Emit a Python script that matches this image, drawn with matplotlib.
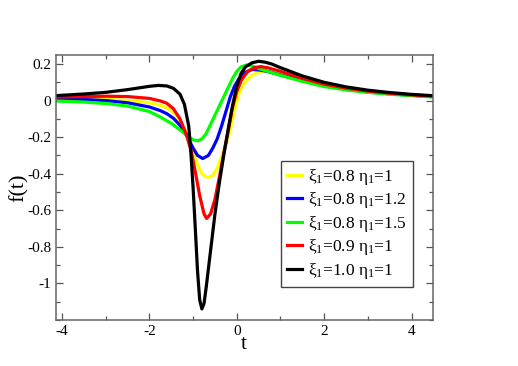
import matplotlib
matplotlib.use("Agg")
import matplotlib.pyplot as plt
from matplotlib.ticker import FixedLocator, FixedFormatter, MultipleLocator

plt.rcParams['font.family'] = ['Liberation Serif', 'DejaVu Serif']
plt.rcParams['mathtext.fontset'] = 'custom'
plt.rcParams['mathtext.rm'] = 'Liberation Serif'
plt.rcParams['mathtext.it'] = 'Liberation Serif'

# --- data ---
t_yellow = [-4.15, -3.5, -3.0, -2.5, -2.0, -1.75, -1.6, -1.45, -1.3, -1.15, -1.0, -0.9, -0.8, -0.72, -0.64,
            -0.55, -0.45, -0.35, -0.25, -0.15, -0.05, 0.05, 0.15, 0.3, 0.45, 0.6, 0.75, 1.0, 1.5,
            2.0, 2.5, 3.0, 3.5, 4.0, 4.47]
f_yellow = [0.014, 0.014, 0.010, 0.0, -0.012, -0.026, -0.04, -0.065, -0.11, -0.18, -0.28, -0.35, -0.40, -0.415, -0.42,
            -0.41, -0.37, -0.31, -0.24, -0.16, -0.05, 0.04, 0.09, 0.13, 0.152, 0.158, 0.155, 0.145, 0.116,
            0.085, 0.065, 0.05, 0.038, 0.03, 0.023]

t_blue = [-4.15, -3.5, -3.0, -2.5, -2.0, -1.75, -1.6, -1.45, -1.3, -1.15, -1.0, -0.9, -0.78, -0.65,
          -0.55, -0.45, -0.35, -0.25, -0.15, -0.05, 0.05, 0.2, 0.35, 0.5, 0.7, 1.0, 1.5,
          2.0, 2.5, 3.0, 3.5, 4.0, 4.47]
f_blue = [0.008, 0.006, 0.0, -0.012, -0.035, -0.055, -0.072, -0.097, -0.135, -0.19, -0.26, -0.30, -0.317, -0.30,
          -0.26, -0.21, -0.14, -0.06, 0.02, 0.08, 0.12, 0.155, 0.17, 0.168, 0.16, 0.14, 0.11,
          0.08, 0.062, 0.047, 0.037, 0.029, 0.022]

t_green = [-4.15, -3.5, -3.0, -2.5, -2.0, -1.75, -1.5, -1.3, -1.15, -1.0, -0.89, -0.8, -0.7, -0.6,
           -0.5, -0.4, -0.3, -0.2, -0.1, 0.0, 0.1, 0.23, 0.35, 0.5, 0.7, 1.0, 1.5,
           2.0, 2.5, 3.0, 3.5, 4.0, 4.47]
f_green = [-0.002, -0.008, -0.016, -0.03, -0.06, -0.09, -0.125, -0.16, -0.19, -0.215, -0.22, -0.21, -0.18, -0.13,
           -0.08, -0.03, 0.02, 0.07, 0.12, 0.16, 0.185, 0.195, 0.19, 0.175, 0.16, 0.138, 0.105,
           0.077, 0.058, 0.045, 0.035, 0.027, 0.02]

t_red = [-4.15, -3.5, -3.0, -2.5, -2.0, -1.75, -1.6, -1.45, -1.3, -1.15, -1.05, -0.95, -0.85, -0.75, -0.69,
         -0.6, -0.5, -0.4, -0.3, -0.2, -0.1, 0.0, 0.1, 0.25, 0.4, 0.55, 0.7, 1.0, 1.5,
         2.0, 2.5, 3.0, 3.5, 4.0, 4.47]
f_red = [0.02, 0.022, 0.024, 0.022, 0.012, -0.002, -0.015, -0.045, -0.10, -0.19, -0.27, -0.39, -0.52, -0.62, -0.645,
         -0.62, -0.54, -0.42, -0.29, -0.17, -0.04, 0.05, 0.11, 0.16, 0.18, 0.186, 0.18, 0.16, 0.122,
         0.09, 0.068, 0.052, 0.04, 0.031, 0.025]

t_black = [-4.15, -3.5, -3.0, -2.5, -2.0, -1.8, -1.6, -1.45, -1.3, -1.2, -1.1, -1.05, -1.0, -0.95,
           -0.9, -0.85, -0.8, -0.75, -0.7, -0.6, -0.5, -0.4, -0.3, -0.2, -0.1, 0.0, 0.1, 0.2,
           0.35, 0.5, 0.65, 0.8, 1.0, 1.5, 2.0, 2.5, 3.0, 3.5, 4.0, 4.47]
f_black = [0.027, 0.036, 0.045, 0.06, 0.078, 0.083, 0.08, 0.067, 0.035, -0.02, -0.14, -0.29, -0.48, -0.70,
           -0.93, -1.09, -1.14, -1.11, -1.02, -0.82, -0.62, -0.45, -0.30, -0.16, -0.03, 0.08, 0.15, 0.185,
           0.207, 0.215, 0.21, 0.2, 0.18, 0.135, 0.10, 0.075, 0.057, 0.044, 0.034, 0.027]

labels = [r"ξ$_1$=0.8 η$_1$=1", r"ξ$_1$=0.8 η$_1$=1.2", r"ξ$_1$=0.8 η$_1$=1.5",
          r"ξ$_1$=0.9 η$_1$=1", r"ξ$_1$=1.0 η$_1$=1"]
colors = ["#ffff00", "#0000ff", "#00ff00", "#ff0000", "#000000"]

xticks = [-4, -2, 0, 2, 4]
xticklabels = ["-4", "-2", "0", "2", "4"]
yticks = [0.2, 0.0, -0.2, -0.4, -0.6, -0.8, -1.0]
yticklabels = ["0.2", "0", "-0.2", "-0.4", "-0.6", "-0.8", "-1"]

fig = plt.figure(figsize=(5.18, 3.66), dpi=100)
ax = fig.add_axes([0.108, 0.126, 0.727, 0.724])

series = [(t_yellow, f_yellow), (t_blue, f_blue), (t_green, f_green), (t_red, f_red), (t_black, f_black)]
for (t, f), c, lab in zip(series, colors, labels):
    ax.plot(t, f, color=c, lw=2.3, label=lab, solid_joinstyle='round')

ax.set_xlim(-4.14, 4.48)
ax.set_ylim(-1.2, 0.25)
ax.xaxis.set_major_locator(FixedLocator(xticks))
ax.xaxis.set_major_formatter(FixedFormatter(xticklabels))
ax.xaxis.set_minor_locator(MultipleLocator(1))
ax.yaxis.set_major_locator(FixedLocator(yticks))
ax.yaxis.set_major_formatter(FixedFormatter(yticklabels))
ax.yaxis.set_minor_locator(MultipleLocator(0.1))
ax.tick_params(which='both', direction='in', top=True, right=True, labelsize=11, color='#555555')
ax.tick_params(which='major', length=5, width=0.9)
ax.tick_params(which='minor', length=3, width=0.9)
for s in ax.spines.values():
    s.set_color('#666666')
    s.set_linewidth(1.1)

ax.set_xlabel("t", fontsize=16, labelpad=-2)
ax.set_ylabel("f(t)", fontsize=16, labelpad=-1)

leg = ax.legend(loc='lower right', bbox_to_anchor=(0.948, 0.1245), fontsize=12.5,
                handlelength=0.85, handletextpad=0.35, labelspacing=0.2,
                borderpad=0.35, borderaxespad=0, fancybox=False, framealpha=1,
                edgecolor='#444444')
leg.get_frame().set_linewidth(1.0)

fig.savefig("out.png", dpi=100)
